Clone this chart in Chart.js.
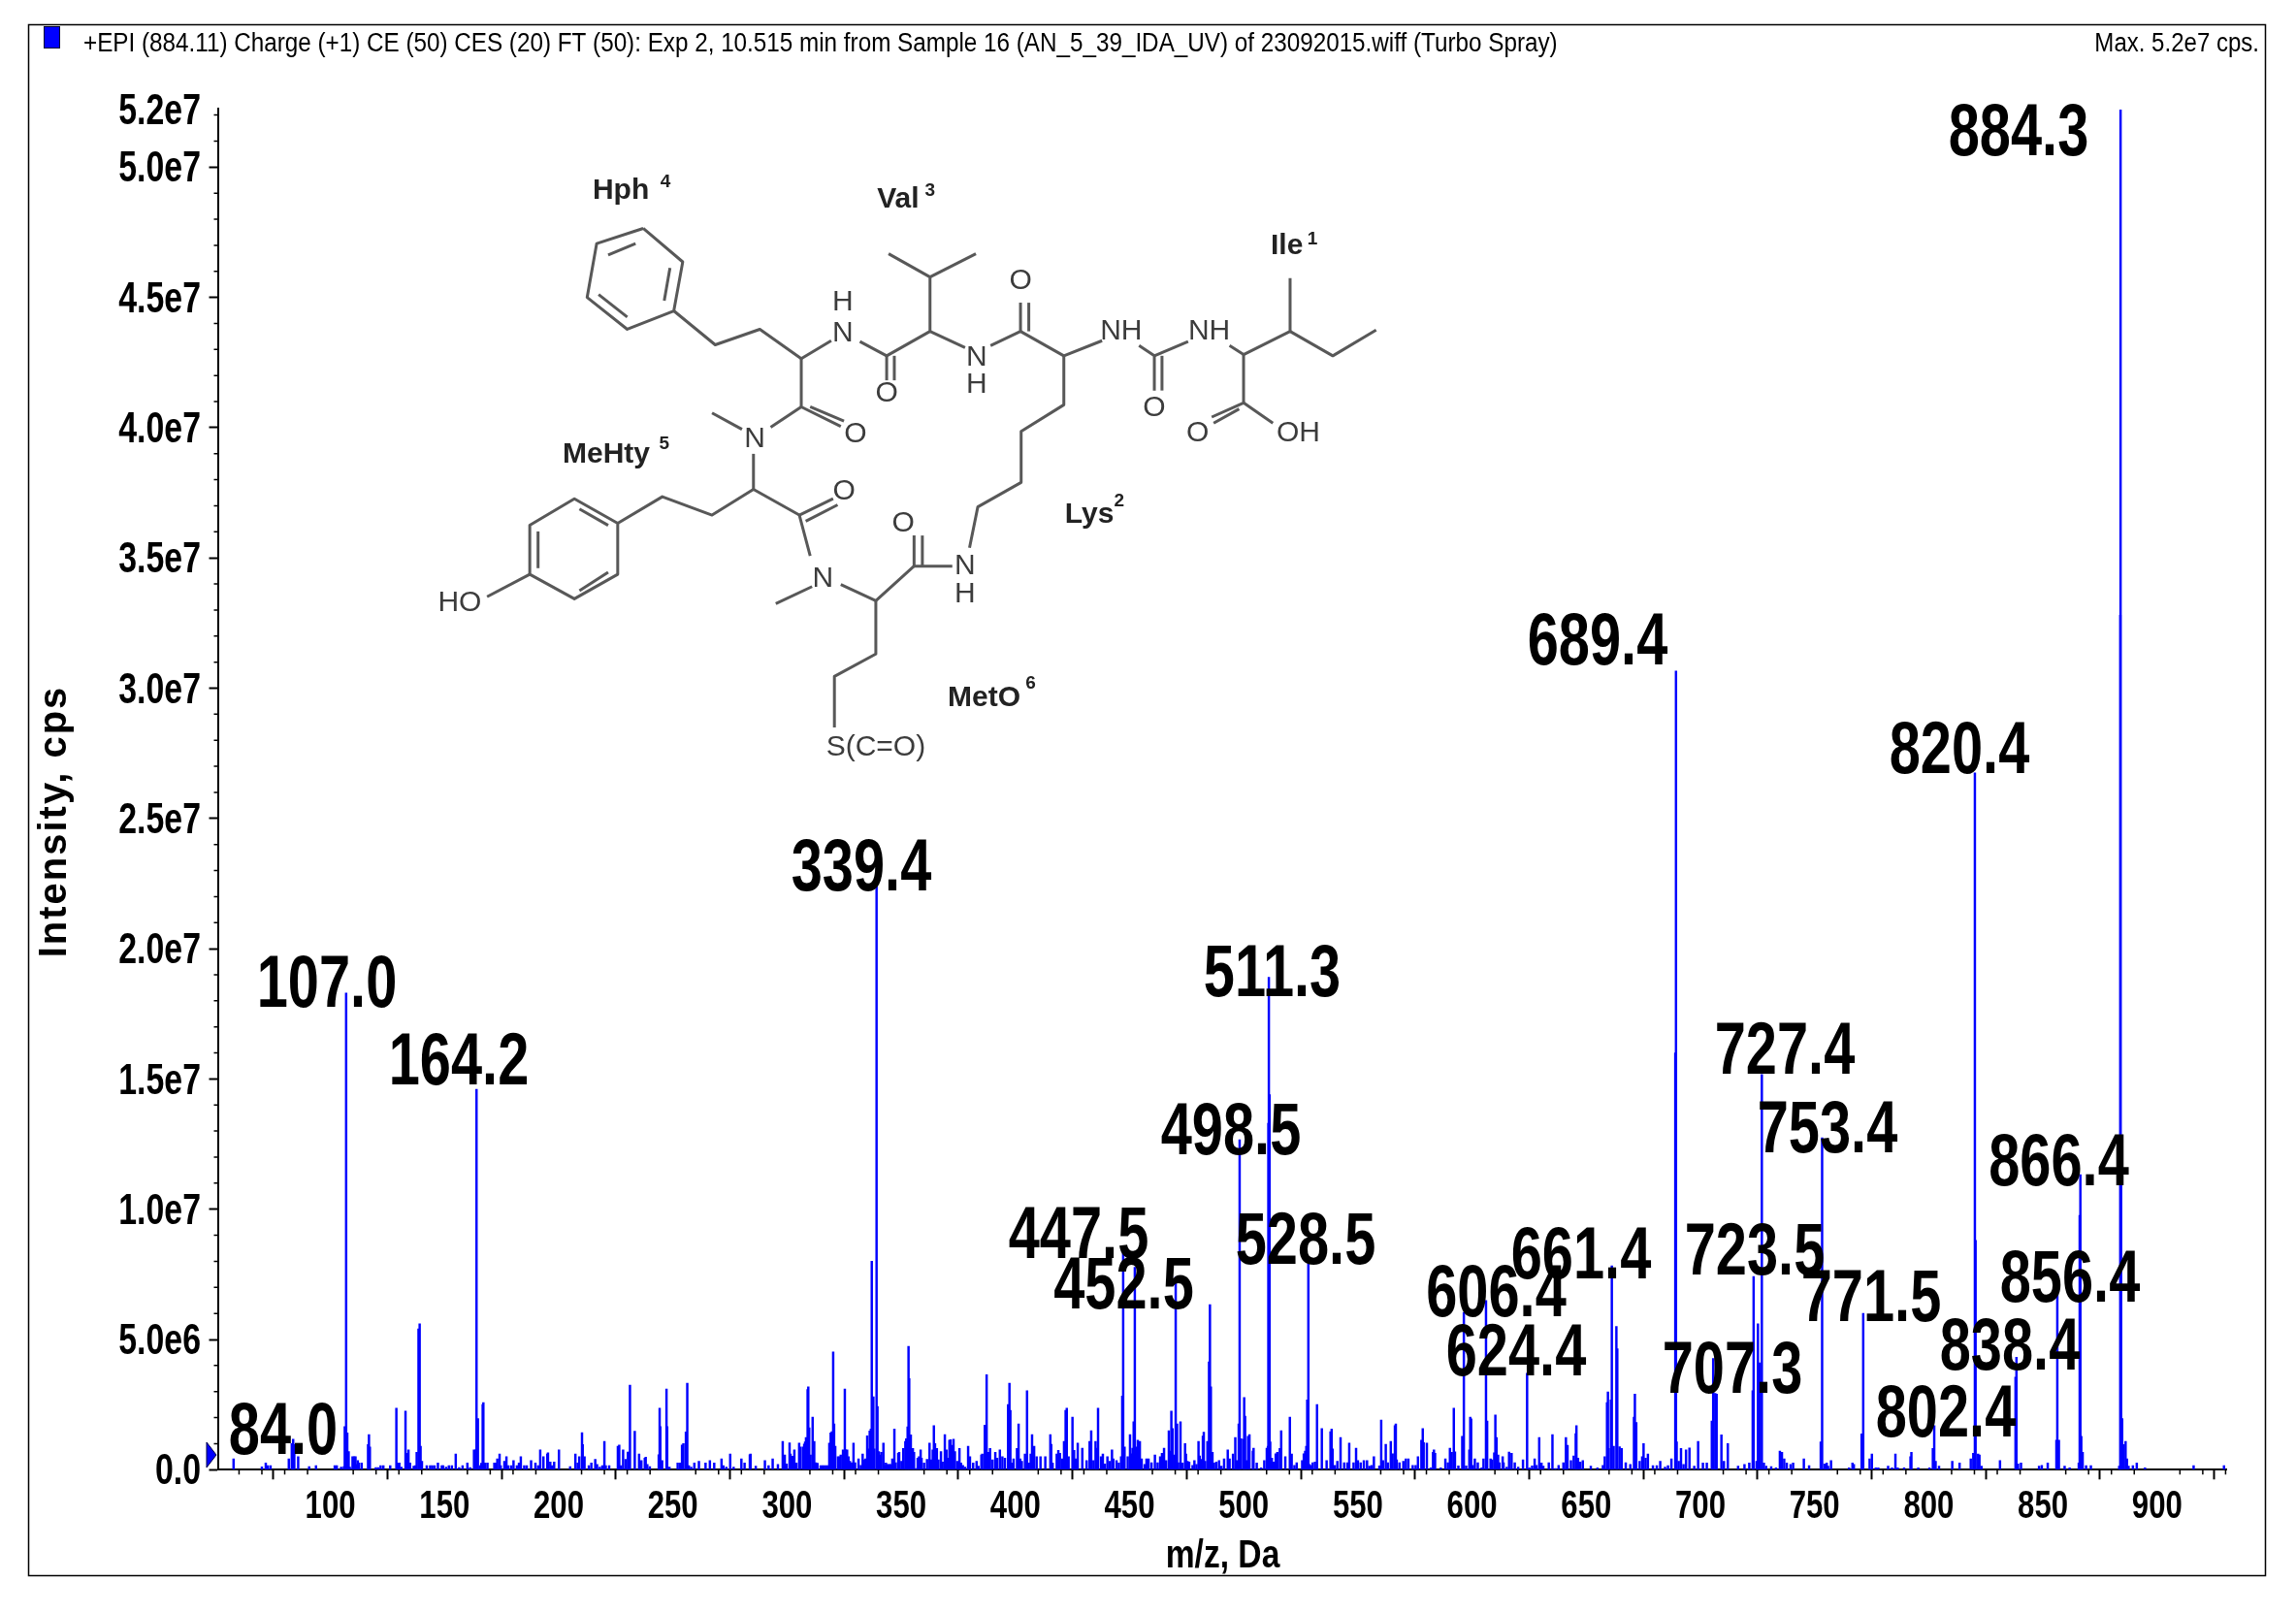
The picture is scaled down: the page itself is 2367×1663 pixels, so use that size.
<!DOCTYPE html>
<html>
<head>
<meta charset="utf-8">
<title>EPI spectrum</title>
<script src="https://cdn.jsdelivr.net/npm/chart.js@4/dist/chart.umd.min.js"></script>
<style>
  html, body { margin: 0; padding: 0; background: #fff; }
  #wrap { width: 2367px; height: 1663px; }
</style>
</head>
<body>
<div id="wrap"><canvas id="spectrum" width="2367" height="1663"></canvas></div>
<script>
// m/z and intensity (in 1e6 cps), one pair of lists per stretch of the axis
const mzLow = [57.6,70,71.7,72.6,73.8,81.8,83.1,83.7,84.2,85.9,90.7,93.7,101.9,102.8,104.7,105.9,106.3,106.9,107.4,108,108.5,109.7,110.4,111,111.4,112,112.5,113.7,116.5,116.9,117.3,119.9,120.9,122,123.2,126.2,128.9,129.6,130.2,131.1,132.9,133.4,134.2,134.9,136.5,137.2,137.8,138.6,139.1,139.5,140.1,142.2,143.7,144.6,145.6,147.1,148.8,149.4,150.7,151.9,153.2,154.9,156.4,157.9,160,161.2,162.9,163.6,164,164.6,165.5,166.1,166.7,167,167.8,168.8,171.8,172.4,173.1,174.1,174.6,176.2,177.1,177.9,179.2,180.2,181.7,182.6,183.4,184.9,186,187.9,189.8,191,191.9,193.3,195,195.3,196.3,197.1,198,200.1,205,207.3,208.3,209,210.2,210.5,211.3,213.2,214.3,216,216.8,218,219.1,220,220.6,222.1,225.9,226.5,227.3,228.2,229.3,230.3,230.9,231.2,233.3,235.2,236.2,237.7,238.1,238.8,239.9,243.8,244.2,244.5,245.3,247.2,247.5,248.5,252.1,253.2,254,254.6,255.7,256.3,257,258,259.4,261.4,264.3,266.2,268.1,271.3,272.1,273.4,275.1,276.6,280,281.4,283.7,284,286.3,290.3];
const intLow = [.42,.11,.26,.16,.16,.42,1,1.17,.97,.5,.12,.16,.16,.16,.1,.12,1.66,18.3,1.41,.7,.1,.5,.5,.5,.2,.35,.26,.26,.97,1.35,.87,.08,.08,.16,.16,.16,2.36,.26,.26,.1,2.25,.63,.76,.26,.14,.16,.67,5.41,5.6,.9,.32,.16,.16,.16,.16,.26,.16,.16,.1,.16,.16,.6,.08,.16,.26,.08,.76,.76,14.6,1.96,.16,.25,2.5,2.58,.26,.26,.26,.26,.42,.6,.16,.32,.5,.16,.16,.35,.16,.26,.5,.16,.16,.35,.26,.16,.76,.5,.6,.65,.3,.16,.3,.76,.12,.6,.26,.5,1.42,.97,.5,.16,.26,.4,.2,.1,.16,1.09,.16,.16,.9,.95,.16,.76,.4,.68,.68,3.25,1.48,.6,.35,.45,.48,.2,.12,.58,2.36,1.66,.35,3.1,1.66,.1,.26,.26,.95,1,1.45,3.32,.16,.1,.26,.32,.26,.35,.26,.42,.16,.1,.6,.1,.42,.26,.58,.6,.14,.35];

const mzMid = [291.9,293.7,296,298.1,299,299.8,301.1,301.5,302.4,303.2,304.1,305.3,305.8,306.9,307.5,307.9,308.3,309,309.3,309.7,310.3,311.2,311.9,312.6,313.3,314.7,315.5,316.2,317,317.8,318.5,319.1,319.6,320.2,320.6,321.1,322.3,323.1,323.5,324.5,325,325.3,325.7,326.3,326.9,327.5,328.4,329.1,329.8,331.3,332.3,333.1,333.7,334.4,335.1,335.7,336.2,336.7,337.1,337.8,338.2,339.2,339.6,340.2,340.8,341.3,342.2,342.7,343.3,344,344.7,345.4,346.1,347,347.6,348.7,349.1,350.1,350.9,351.8,352.2,352.8,353.2,353.5,354.2,355.1,355.6,356.5,357.2,357.8,358.5,358.9,360,361.3,362.4,363.1,363.8,364.3,364.8,365.6,366.3,367.4,368.1,369.1,369.8,370.4,371.1,371.6,372.3,372.9,373.5,374.5,375.5,376.2,377,378,379.3,380.1,381.5,383,383.8,385.1,385.5,386.6,387.4,388.1,388.9,390,391.2,392,393.2,394.3,395.4,396.8,397.4,397.8,398.5,399.2,400.7,401.4,402.1,402.8,404.2,405.1,405.9,406.7,407.3,408.2,409.3,411,413.1,415.3,415.7,416.3,418.1];
const intMid = [.16,.42,.2,1.09,.57,.22,1.03,.6,.52,.76,.26,1.02,.87,.87,.99,1.07,1.24,3.08,3.18,1.61,.57,2.02,1.09,.27,.25,.16,.16,.16,.16,.16,1.02,1.41,1.46,4.52,1.76,.9,.5,.5,.57,.76,.38,3.1,.76,.76,.5,.32,.27,1.02,.27,.42,.17,.6,.38,.42,1.3,.8,1.49,1.56,8,2.8,.8,22.6,2.43,.7,.57,.67,1.02,.17,.26,.2,.2,.2,.42,1.56,.27,.63,.67,.32,.82,1.09,1.19,1.65,4.74,3.5,1.34,.82,.67,.05,.45,.5,.76,.45,.26,.4,1.02,.38,.76,1.69,1,.82,.38,.7,.3,1.35,.76,.45,1.13,1.15,.94,1.17,.7,.32,.82,.26,.17,.1,.9,.5,.26,.32,.14,.57,.6,1.71,3.65,.67,.82,.38,.67,.45,.76,.5,.45,2.5,3.32,2.28,.26,.42,.82,1.76,.42,.32,.6,3.03,.26,.6,1.35,.9,.5,.5,.5,1.35,.98,.26,.6];

const mzHigh = [418.8,419.5,420.5,421.3,422,422.5,423.3,425,425.7,426.4,427.3,429.3,431.2,432.5,433.2,434.2,435.1,435.5,436.2,437.5,438.3,439.2,440.3,441.3,442.3,442.9,444.3,445.3,446.3,446.8,447.2,447.8,449.2,450.2,450.9,451.3,451.8,452.3,453,453.6,454.5,455.3,456.6,457.4,458.3,459.6,461.1,462.3,463.4,464.2,465.1,466,467.2,467.8,468.3,468.8,469.6,470.2,470.8,471.3,472.3,473.2,474.3,474.7,475.4,476.1,477.6,478.4,479.3,480.2,480.7,481.7,482.1,482.5,483.1,484.1,484.8,485.2,485.6,486.3,487,488,489.2,490.2,491.4,493,493.8,495.3,496.3,497,497.8,498.2,498.8,499.8,500.2,500.6,501.2,501.9,502.5,504,504.3,505.7,507.6,509,510.1,510.6,510.8,511,511.3,511.6,512.3,513,514,514.7,515.8,516.4,518.2,520.2,521,522.2,523.2,525.6,526.3,526.9,527.4,527.8,528.3,528.8,529.5,530.2,531.2,532.1,534.2,536.3,538,538.5,538.9,539.9,541,542.4,544,545.4];
const intHigh = [.74,.63,.42,1.09,2.28,2.36,.5,2.02,.74,.42,1.02,.83,.35,1.09,1.5,.35,1.09,.83,2.36,.5,.6,.22,.5,.32,.76,.42,.35,.26,.5,2.83,8.4,.87,.5,1.35,.61,.83,1.84,7.77,.87,1.13,1.09,.42,.2,.42,.42,.27,.57,.27,.5,.63,.83,.35,1.5,.72,2.25,1.58,.57,7.4,1.76,.27,1.84,.26,1,.6,.32,.3,.17,.35,.2,1.09,.53,.4,1.29,1.44,.32,1.09,4.14,6.34,3.18,.67,.26,.3,.35,.14,.42,.76,.42,.6,1.24,.35,1.76,12.67,1.19,1.17,2.77,2.06,.35,1.28,1.35,.72,.83,.26,.07,.35,.83,.9,13.3,18.9,14.4,1.07,.45,.3,.61,.67,.82,1.5,.5,2.02,.6,.17,.27,.35,.61,.72,.9,2.68,7.9,.2,.17,.27,.3,2.5,1.58,.35,1.46,1.56,.8,.17,.32,1.24,.27,.27];

const mzUpper = [546.2,548.1,549.2,550,551.2,552.6,554,555,556,557,559.4,560.2,561,562.2,563.1,564.4,565.2,566.2,566.6,567,568.2,569.9,571,572.1,574,575.3,576.3,577.8,578.4,578.8,580.2,581.9,582.9,583.3,583.8,586.3,588.3,589.4,590.3,591.1,592,592.5,594,595.7,596.4,597.4,598.8,599.2,599.6,600.3,601.2,602.5,604.2,605,606.1,606.6,608.1,608.8,609.7,610.2,610.7,611.4,612,613.4,613.8,615.2,616.2,617.3,618.7,620.2,622.3,624.1,625.1,626.3,627.4,628.2,629.4,630.4,631.2,633.6,635.2,636.5,637.9,640,641.1,641.8,643.3,644.5,645.4,645.7,646.4,647.4,648.5,652,654.9,657.3,658.1,659.1,659.5,659.8,660.8,661.2,662,663.2,663.6,664.6,665.5,667.3,669.3];
const intUpper = [1.02,.27,.83,.35,.27,.35,.35,.14,.17,.5,.15,1.91,.35,.98,.27,1.09,.61,1.69,1.76,.38,.27,.32,.42,.42,.17,.17,.5,1.13,1.58,1.04,1.02,.07,.67,.76,.63,.07,.42,.27,.83,.67,2.36,.69,.15,1.28,6.04,.15,.76,2.02,1.95,.17,.42,.27,.07,.42,6.5,1.87,.42,.38,.65,2.1,1.24,.57,.27,.5,.27,.1,.68,.63,.27,.1,.38,3.7,.07,.15,.42,.17,1.24,.26,.14,.27,1.35,.05,.17,.27,1.24,.94,.35,.53,1.39,1.69,.45,.3,.35,.14,.07,.17,.5,2.58,2.99,.82,2.68,7.83,.9,5.5,4.64,.88,.82,.27,.2];

const mzTop = [670.9,671.3,671.9,673.4,674.5,675.1,676,677,679.2,680.9,682.4,684.5,685.8,687.3,689,689.3,689.6,690.5,691.5,692.6,693.7,695.2,697.3,699,701.1,702.8,705,705.6,706.5,707.1,709.2,710.3,712,716.5,719.3,721.4,722.9,723.3,724.6,725.2,725.9,726.9,727.8,728.8,731,733.1,734.8,735.7,736.7,737.8,739.5,740.6,745.3,747.6,752.7,753.3,754.4,755.3,755.9,757.2,765.1,766.6,767.2,770.6,771.3,774.1,775.1,776.8,777.9,782.2,783.9,785.4,786.4,789.2,792,792.4,795.4,800.3,801.8,802.4,803,804.5,810.3,813.5,818.4,819.5,820.2,820.5,821.6,822.2,823.1,831.2,838,838.4,839.1,840.4,848.3,849.5,852.1,855.9,856.3,857,859.5,861.7,865.7,866.1,866.4,866.8,867.4,868.9,871,883.4,883.9,884,884.2,884.7,885.3,886.2,886.8,887.5,889.4,891.1,894.7,916,929.3];
const intTop = [2.02,2.9,1.81,.32,.5,1,.45,.6,.16,.16,.32,.1,.16,.42,16,30.66,1.07,.32,.82,.2,.76,.84,.14,1.09,.26,.26,1.87,4.27,2.93,2.9,1.34,.32,1,.14,.2,.26,3.03,7.42,.32,5.6,4.1,15.17,.26,.14,.12,.07,.72,.67,.42,.26,.2,.26,.42,.16,1.07,12.74,.22,.26,.14,.35,.07,.26,.2,1.38,6,.42,.6,.07,.07,.14,.07,.6,.07,.07,.5,.67,.07,.07,.82,1.69,.32,.14,.32,.26,.42,.63,26.75,8.8,.6,.57,.14,.35,3.55,4.32,.22,.26,.14,.17,.26,1.13,7.5,1.13,.14,.07,.26,9.76,11.33,1.28,.67,.16,.16,.14,32.8,52.2,11,1.96,.97,1.09,.42,.14,.16,.26,.07,.16,.16];

// Axis ticks
const xMajorTicks = [100,150,200,250,300,350,400,450,500,550,600,650,700,750,800,850,900];
const xMinorTicks = [60,70,80,90,110,120,130,140,160,170,180,190,210,220,230,240,260,270,280,290,310,320,330,340,360,370,380,390,410,420,430,440,460,470,480,490,510,520,530,540,560,570,580,590,610,620,630,640,660,670,680,690,710,720,730,740,760,770,780,790,810,820,830,840,860,870,880,890,910,920,930];
const yMajorTicks = [0,5,10,15,20,25,30,35,40,45,50];
const yMajorLabels = ["0.0","5.0e6","1.0e7","1.5e7","2.0e7","2.5e7","3.0e7","3.5e7","4.0e7","4.5e7","5.0e7"];
const yTopTick = 52;
const yTopLabel = "5.2e7";
const yMinorTicks = [1,2,3,4,6,7,8,9,11,12,13,14,16,17,18,19,21,22,23,24,26,27,28,29,31,32,33,34,36,37,38,39,41,42,43,44,46,47,48,49,51,52];

// Peak labels printed on the spectrum
const peakLabels = ["884.3","689.4","820.4","339.4","107.0","164.2","511.3","498.5","447.5","452.5","528.5","606.4","624.4","661.4","723.5","727.4","753.4","771.5","707.3","802.4","838.4","856.4","866.4","84.0"];

const headerText = "+EPI (884.11) Charge (+1) CE (50) CES (20) FT (50): Exp 2, 10.515 min from Sample 16 (AN_5_39_IDA_UV) of 23092015.wiff (Turbo Spray)";
const maxText = "Max. 5.2e7 cps.";

// Layout, in page pixels
const BLUE = "#0000ff";
const SANS = '"Liberation Sans", sans-serif';
const AREA = { left: 224.5, right: 2295.4, top: 112, bottom: 1515.3 };
const labelPlaces = [[2081,160],[1647,685],[2020,797],[888,918],[337,1038],[473,1118],[1311.5,1027],[1269,1190],[1112,1297],[1158.5,1349],[1346,1303],[1542.5,1357],[1563,1418],[1630,1318],[1809,1314],[1840,1107],[1884,1188],[1929,1362],[1786,1436],[2006,1481],[2072,1412],[2134,1342],[2122.5,1222],[292,1499]];

// The molecule inset; points are in the 1.522 x 2.375 stretched frame used while reading it
const molX = x => 420 + x / 1.522;
const molY = y => 150 + y / 2.375;
const molBonds = [
  [[370,203],[432,285],[418,405],[345,450],[282,372],[297,240],[370,203]],
  [[315,268],[358,240]],[[412,300],[403,380]],[[300,365],[345,420]],
  [[418,405],[483,488],[553,450],[618,522],[665,478]],
  [[618,522],[618,640],[680,688]],[[632,640],[685,675]],
  [[710,480],[752,515],[820,455],[820,322],[755,265]],[[820,322],[892,265]],
  [[752,515],[752,575]],[[764,515],[764,575]],
  [[820,455],[875,495]],[[915,490],[962,455],[962,385]],[[975,455],[975,385]],
  [[962,455],[1030,515],[1090,478]],[[1148,490],[1172,515],[1172,600]],[[1184,515],[1184,600]],
  [[1172,515],[1225,480]],[[1290,490],[1312,512],[1385,455],[1385,325]],[[1385,455],[1452,515],[1520,452]],
  [[1312,512],[1312,630],[1262,665]],[[1305,645],[1265,680]],[[1312,630],[1358,680]],
  [[1030,515],[1030,635],[963,700],[963,825],[895,885],[882,985]],
  [[855,1030],[795,1030],[795,955]],[[808,1030],[808,955]],[[795,1030],[735,1115],[680,1075]],
  [[735,1115],[735,1245],[670,1300],[670,1425]],[[635,1080],[578,1122]],
  [[632,1005],[615,905],[668,865]],[[625,920],[675,880]],
  [[615,905],[543,842],[478,905],[400,860],[330,925]],
  [[330,925],[262,865],[192,930],[192,1050],[262,1110],[330,1050],[330,925]],
  [[270,890],[315,930]],[[205,945],[205,1035]],[[270,1090],[315,1045]],
  [[125,1105],[192,1050]],
  [[543,842],[543,755]],[[570,690],[618,640]],[[525,695],[478,655]]
];
const molAtoms = [["H",683,385],["N",683,460],["O",752,608],["N",893,520],["H",893,585],["O",962,332],["NH",1120,455],["O",1172,642],["NH",1258,455],["O",1240,705],["OH",1398,705],["N",875,1030],["H",875,1098],["O",778,925],["N",652,1060],["S(C=O)",735,1475],["O",685,848],["HO",82,1120],["N",545,720],["O",703,708]];
const molResidues = [["Hph",335,112,"4",405,90],["Val",770,132,"3",820,110],["Ile",1380,247,"1",1420,230],["MeHty",312,756,"5",403,730],["Lys",1070,904,"2",1117,872],["MetO",905,1352,"6",978,1317]];

function drawMolecule(ctx) {
  ctx.save();
  ctx.filter = "blur(0.7px)";
  ctx.strokeStyle = "#585858";
  ctx.lineWidth = 3;
  ctx.lineJoin = "round";
  molBonds.forEach(line => {
    ctx.beginPath();
    line.forEach((p, i) => i ? ctx.lineTo(molX(p[0]), molY(p[1])) : ctx.moveTo(molX(p[0]), molY(p[1])));
    ctx.stroke();
  });
  ctx.textAlign = "center";
  ctx.textBaseline = "middle";
  ctx.fillStyle = "#3c3c3c";
  ctx.font = "30px " + SANS;
  molAtoms.forEach(a => ctx.fillText(a[0], molX(a[1]), molY(a[2])));
  ctx.fillStyle = "#222";
  molResidues.forEach(r => {
    ctx.font = "bold 30px " + SANS;
    ctx.fillText(r[0], molX(r[1]), molY(r[2]));
    ctx.font = "bold 19px " + SANS;
    ctx.fillText(r[3], molX(r[4]), molY(r[5]));
  });
  ctx.restore();
}

// No narrow face is installed, so the reference's condensed lettering is squeezed by hand
function squeezedText(ctx, text, x, y, squeeze) {
  ctx.save();
  ctx.translate(x, y);
  ctx.scale(squeeze, 1);
  ctx.fillText(text, 0, 0);
  ctx.restore();
}

// Draws what Chart.js has no element for: frame, header, minor ticks, tick labels, peak labels, inset
const decorations = {
  id: "decorations",
  beforeDraw(chart) {
    const ctx = chart.ctx;
    ctx.save();
    ctx.fillStyle = "#fff";
    ctx.fillRect(0, 0, chart.width, chart.height);
    ctx.strokeStyle = "#000";
    ctx.lineWidth = 1.5;
    ctx.strokeRect(29.5, 25.5, 2306, 1599);
    ctx.fillStyle = BLUE;
    ctx.fillRect(45, 27, 17, 23);
    ctx.strokeStyle = "#000033";
    ctx.lineWidth = 1;
    ctx.strokeRect(45.5, 27.5, 16, 22);

    ctx.fillStyle = "#000";
    ctx.textBaseline = "middle";
    ctx.font = "27px " + SANS;
    ctx.textAlign = "left";
    squeezedText(ctx, headerText, 86, 46, 0.898);
    ctx.textAlign = "right";
    squeezedText(ctx, maxText, 2329, 46, 0.89);

    ctx.fillStyle = BLUE;
    ctx.strokeStyle = "#000044";
    ctx.beginPath();
    ctx.moveTo(213, 1487);
    ctx.lineTo(223, 1500);
    ctx.lineTo(213, 1513);
    ctx.closePath();
    ctx.fill();
    ctx.stroke();
    ctx.restore();
    drawMolecule(ctx);
  },
  afterDraw(chart) {
    const ctx = chart.ctx;
    const x = chart.scales.x, y = chart.scales.y;
    ctx.save();
    ctx.strokeStyle = "#000";
    ctx.lineWidth = 1.5;
    ctx.beginPath();
    xMinorTicks.forEach(v => {
      const px = x.getPixelForValue(v);
      ctx.moveTo(px, AREA.bottom);
      ctx.lineTo(px, AREA.bottom + 5);
    });
    yMinorTicks.forEach(v => {
      const py = y.getPixelForValue(v);
      ctx.moveTo(AREA.left, py);
      ctx.lineTo(AREA.left - 4, py);
    });
    ctx.stroke();

    ctx.fillStyle = "#000";

    // tick labels and the x title
    ctx.font = "bold 41px " + SANS;
    ctx.textAlign = "center";
    ctx.textBaseline = "alphabetic";
    xMajorTicks.forEach(v => squeezedText(ctx, String(v), x.getPixelForValue(v), 1565, 0.76));
    ctx.font = "bold 40px " + SANS;
    squeezedText(ctx, "m/z, Da", 1260.5, 1616, 0.84);
    ctx.font = "bold 44px " + SANS;
    ctx.textAlign = "right";
    ctx.textBaseline = "middle";
    yMajorTicks.forEach((v, i) => squeezedText(ctx, yMajorLabels[i], 207, y.getPixelForValue(v) + 3, 0.77));
    squeezedText(ctx, yTopLabel, 207, y.getPixelForValue(yTopTick) - 3, 0.77);

    // peak labels
    ctx.textBaseline = "alphabetic";
    ctx.textAlign = "center";
    ctx.font = "bold 76px " + SANS;
    peakLabels.forEach((text, i) => squeezedText(ctx, text, labelPlaces[i][0], labelPlaces[i][1], 0.76));

    ctx.save();
    ctx.translate(57, 847);
    ctx.rotate(-Math.PI / 2);
    ctx.textBaseline = "middle";
    ctx.font = "bold 40px " + SANS;
    ctx.letterSpacing = "2px";
    ctx.fillText("Intensity, cps", 0, 0);
    ctx.restore();
    ctx.restore();
  }
};

const allMz = [...mzLow, ...mzMid, ...mzHigh, ...mzUpper, ...mzTop];
const allInt = [...intLow, ...intMid, ...intHigh, ...intUpper, ...intTop];

new Chart(document.getElementById("spectrum"), {
  type: "bar",
  data: {
    datasets: [{
      data: allMz.map((m, i) => ({ x: m, y: allInt[i] })),
      backgroundColor: BLUE,
      borderWidth: 0,
      barThickness: 1.8
    }]
  },
  options: {
    responsive: false,
    animation: false,
    devicePixelRatio: 1,
    layout: { padding: { left: 0, right: 2367 - AREA.right, top: AREA.top, bottom: 0 } },
    plugins: { legend: { display: false }, tooltip: { enabled: false } },
    scales: {
      x: {
        type: "linear",
        offset: false,
        min: 100 + (AREA.left - 340.6) / 2.354,
        max: 100 + (AREA.right - 340.6) / 2.354,
        afterBuildTicks: s => { s.ticks = xMajorTicks.map(v => ({ value: v })); },
        afterFit: s => { s.height = 1663 - AREA.bottom; },
        ticks: { display: false },
        grid: { drawOnChartArea: false, tickLength: 10, tickColor: "#000", tickWidth: 2 },
        border: { display: true, color: "#000", width: 2 }
      },
      y: {
        type: "linear",
        offset: false,
        min: 0,
        max: (AREA.bottom - AREA.top) / 26.86,
        afterBuildTicks: s => { s.ticks = yMajorTicks.map(v => ({ value: v })); },
        afterFit: s => { s.width = AREA.left; },
        ticks: { display: false },
        grid: { drawOnChartArea: false, tickLength: 9, tickWidth: 2, tickColor: "#000" },
        border: { display: true, color: "#000", width: 2 }
      }
    }
  },
  plugins: [decorations]
});
</script>
</body>
</html>
